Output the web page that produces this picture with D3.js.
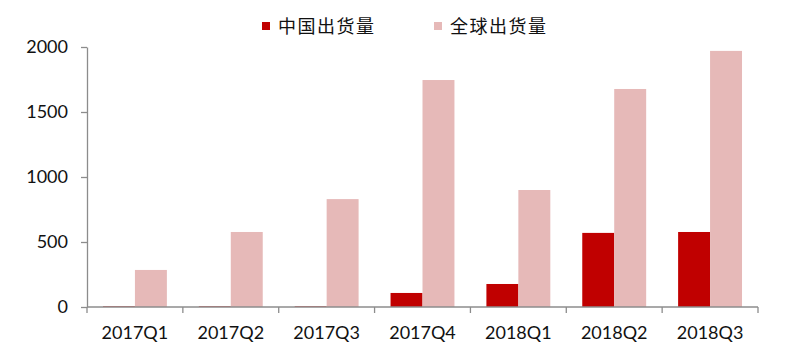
<!DOCTYPE html>
<html>
<head>
<meta charset="utf-8">
<script src="https://d3js.org/d3.v7.min.js"></script>
<style>
  body { margin: 0; background: #fff; }
  text { font-family: Lato, "Open Sans", sans-serif; }
</style>
</head>
<body>
<svg width="800" height="363"></svg>
<script>
var categories = ["2017Q1", "2017Q2", "2017Q3", "2017Q4", "2018Q1", "2018Q2", "2018Q3"];
var seriesNames = ["中国出货量", "全球出货量"];
var chinaValues = [5, 5, 5, 108, 177, 570, 577];
var globalValues = [285, 577, 830, 1746, 900, 1677, 1970];
var yTicks = [0, 500, 1000, 1500, 2000];
var colors = ["#c00000", "#e6b9b8"];

var svg = d3.select("svg");
var plotLeft = 87, plotRight = 758, plotTop = 47, plotBottom = 307;

var x = d3.scaleBand().domain(categories).range([plotLeft, plotRight]).paddingInner(0).paddingOuter(0);
var x1 = d3.scaleBand().domain([0, 1]).range([0, x.bandwidth()]).paddingInner(0).paddingOuter(0.5);
var y = d3.scaleLinear().domain([0, 2000]).range([plotBottom, plotTop]);

var rows = categories.map(function(c, i) {
    return { cat: c, vals: [chinaValues[i], globalValues[i]] };
});

var g = svg.append("g")
    .selectAll("g")
    .data(rows)
    .enter().append("g")
    .attr("transform", function(d) { return "translate(" + x(d.cat) + ",0)"; });

g.selectAll("rect")
    .data(function(d) { return d.vals; })
    .enter().append("rect")
    .attr("x", function(d, i) { return x1(i); })
    .attr("width", x1.bandwidth())
    .attr("y", function(d) { return y(d); })
    .attr("height", function(d) { return plotBottom - y(d); })
    .attr("fill", function(d, i) { return colors[i]; });

// y axis
var yAxis = svg.append("g")
    .attr("transform", "translate(" + plotLeft + ",0)")
    .call(d3.axisLeft(y).tickValues(yTicks).tickFormat(d3.format("d"))
        .tickSize(6).tickPadding(13).tickSizeOuter(0));
yAxis.selectAll("text").attr("font-size", 18).attr("fill", "#111")
    .style("font-family", "Lato, sans-serif");

// x axis
var xAxis = svg.append("g")
    .attr("transform", "translate(0," + plotBottom + ")");
xAxis.append("line")
    .attr("x1", plotLeft).attr("x2", plotRight)
    .attr("y1", 0).attr("y2", 0);
xAxis.selectAll("line.tk")
    .data(categories.concat(["end"]))
    .enter().append("line")
    .attr("class", "tk")
    .attr("x1", function(d, i) { return i < categories.length ? x(d) : plotRight; })
    .attr("x2", function(d, i) { return i < categories.length ? x(d) : plotRight; })
    .attr("y1", 0).attr("y2", 6);
xAxis.selectAll("text")
    .data(categories)
    .enter().append("text")
    .attr("x", function(d) { return x(d) + x.bandwidth() / 2; })
    .attr("y", 32)
    .attr("text-anchor", "middle")
    .attr("font-size", 18)
    .attr("fill", "#111")
    .text(function(d) { return d; });

svg.selectAll(".domain, .tick line, g line").attr("stroke", "#8c8c8c").attr("stroke-width", 1.3);

// legend
var legendX = [262, 434];
var leg = svg.append("g").selectAll("g")
    .data(seriesNames)
    .enter().append("g")
    .attr("transform", function(d, i) { return "translate(" + legendX[i] + ",22)"; });
leg.append("rect")
    .attr("width", 8).attr("height", 8).attr("y", 0)
    .attr("fill", function(d, i) { return colors[i]; });
leg.append("text")
    .attr("x", 16).attr("y", 11)
    .attr("font-size", 18)
    .attr("fill", "#111")
    .style("font-family", "'Noto Sans CJK SC', sans-serif")
    .style("letter-spacing", "1.5px")
    .text(function(d) { return d; });
</script>
</body>
</html>
